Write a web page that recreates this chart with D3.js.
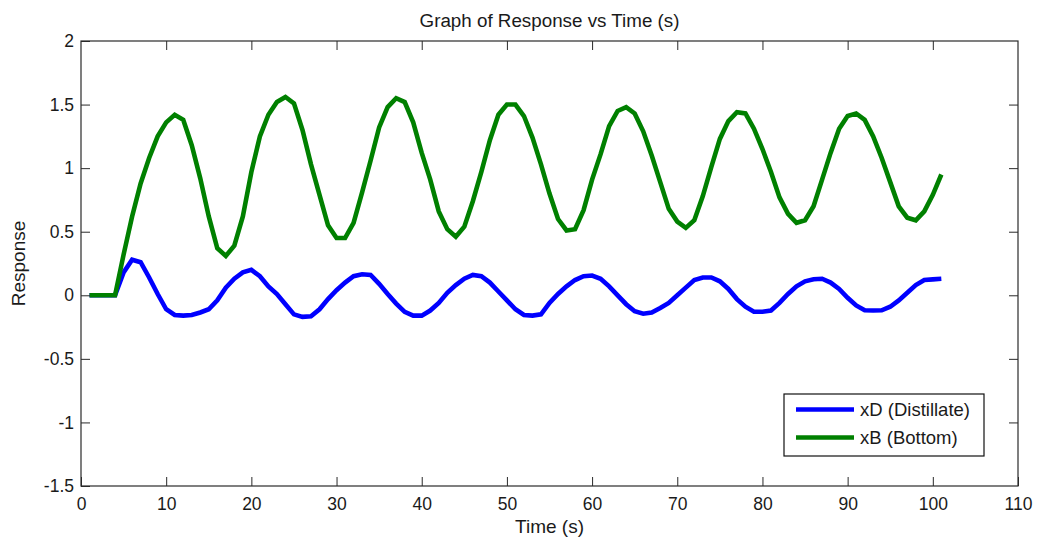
<!DOCTYPE html>
<html>
<head>
<meta charset="utf-8">
<script src="https://cdn.jsdelivr.net/npm/d3@7"></script>
<style>
  html, body { margin: 0; padding: 0; background: #fff; }
  svg { display: block; }
  text { font-family: Arial, "Liberation Sans", sans-serif; fill: #1a1a1a; }
</style>
</head>
<body>
<svg id="chart" width="1037" height="540"></svg>
<script>
// ---- data ----
const time = [1,2,3,4,5,6,7,8,9,10,11,12,13,14,15,16,17,18,19,20,21,22,23,24,25,26,27,28,29,30,
  31,32,33,34,35,36,37,38,39,40,41,42,43,44,45,46,47,48,49,50,51,52,53,54,55,56,57,58,59,60,
  61,62,63,64,65,66,67,68,69,70,71,72,73,74,75,76,77,78,79,80,81,82,83,84,85,86,87,88,89,90,
  91,92,93,94,95,96,97,98,99,100,101];

const xD = [0,0,0,0,0.18,0.28,0.26,0.14,0.01,-0.11,-0.155,-0.16,-0.155,-0.135,-0.11,-0.04,0.06,0.13,0.18,0.20,
  0.15,0.07,0.01,-0.07,-0.15,-0.17,-0.165,-0.11,-0.03,0.04,0.10,0.15,0.165,0.16,0.09,0.01,-0.065,-0.13,-0.16,-0.16,
  -0.12,-0.06,0.02,0.08,0.13,0.16,0.15,0.10,0.03,-0.04,-0.11,-0.155,-0.16,-0.15,-0.06,0.01,0.07,0.12,0.15,0.155,
  0.13,0.07,0.0,-0.07,-0.125,-0.145,-0.135,-0.10,-0.06,0.0,0.06,0.12,0.14,0.14,0.11,0.05,-0.03,-0.09,-0.13,-0.13,
  -0.12,-0.06,0.01,0.07,0.11,0.126,0.13,0.10,0.05,-0.02,-0.08,-0.118,-0.12,-0.118,-0.09,-0.04,0.02,0.08,0.12,0.125,0.13];

const xB = [0,0,0,0,0.32,0.62,0.88,1.08,1.25,1.36,1.42,1.38,1.18,0.92,0.62,0.37,0.31,0.39,0.62,0.97,
  1.25,1.42,1.52,1.56,1.51,1.30,1.03,0.79,0.55,0.45,0.45,0.57,0.81,1.06,1.32,1.48,1.55,1.52,1.36,1.12,
  0.91,0.66,0.52,0.46,0.54,0.74,0.97,1.22,1.42,1.50,1.50,1.41,1.24,1.03,0.80,0.60,0.51,0.52,0.67,0.91,
  1.11,1.33,1.45,1.48,1.43,1.29,1.10,0.89,0.68,0.58,0.53,0.59,0.78,1.01,1.23,1.37,1.44,1.43,1.31,1.15,
  0.97,0.77,0.64,0.57,0.59,0.70,0.91,1.12,1.31,1.41,1.43,1.38,1.25,1.08,0.89,0.70,0.61,0.59,0.66,0.79,0.95];

const xTicks = [0,10,20,30,40,50,60,70,80,90,100,110];
const yTicks = [-1.5,-1,-0.5,0,0.5,1,1.5,2];
const seriesNames = ["xD (Distillate)", "xB (Bottom)"];
const seriesColors = ["#0000ff", "#008000"];
const titleText = "Graph of Response vs Time (s)";
const xLabel = "Time (s)";
const yLabel = "Response";

// ---- layout ----
const svg = d3.select("#chart");
const L = 81, R = 1018, T = 41, B = 486;
const x = d3.scaleLinear().domain([0, 110]).range([L, R]);
const y = d3.scaleLinear().domain([-1.5, 2]).range([B, T]);
const axisColor = "#2a2a2a";
const tickFont = 17.5;

svg.append("rect").attr("x", L).attr("y", T).attr("width", R - L).attr("height", B - T)
  .attr("fill", "#fff");

// data lines
const series = [xD, xB];
const line = d3.line().x((d, i) => x(time[i])).y(d => y(d));
series.forEach((s, k) => {
  svg.append("path").datum(s).attr("d", line)
    .attr("fill", "none").attr("stroke", seriesColors[k])
    .attr("stroke-width", 4.6).attr("stroke-linejoin", "miter").attr("stroke-linecap", "butt");
});

// axes
function styleAxis(g) {
  g.select(".domain").remove();
  g.selectAll(".tick line").attr("stroke", axisColor).attr("stroke-width", 1);
  g.selectAll(".tick text").attr("font-size", tickFont).attr("fill", "#1a1a1a")
    .attr("font-family", "Arial, 'Liberation Sans', sans-serif");
}
const fmt = d => String(d);
svg.append("g").attr("transform", `translate(0,${B})`)
  .call(d3.axisBottom(x).tickValues(xTicks).tickFormat(fmt).tickSize(-9).tickPadding(12))
  .call(styleAxis);
svg.append("g").attr("transform", `translate(0,${T})`)
  .call(d3.axisTop(x).tickValues(xTicks.slice(1, -1)).tickFormat("").tickSize(-9))
  .call(styleAxis);
svg.append("g").attr("transform", `translate(${L},0)`)
  .call(d3.axisLeft(y).tickValues(yTicks).tickFormat(fmt).tickSize(-9).tickPadding(7))
  .call(styleAxis);
svg.append("g").attr("transform", `translate(${R},0)`)
  .call(d3.axisRight(y).tickValues(yTicks.slice(1, -1)).tickFormat("").tickSize(-9))
  .call(styleAxis);

svg.append("rect").attr("x", L).attr("y", T).attr("width", R - L).attr("height", B - T)
  .attr("fill", "none").attr("stroke", axisColor).attr("stroke-width", 1.2);

// title & labels
svg.append("text").attr("x", (L + R) / 2).attr("y", 27).attr("text-anchor", "middle")
  .attr("font-size", 18.8).text(titleText);
svg.append("text").attr("x", (L + R) / 2).attr("y", 533).attr("text-anchor", "middle")
  .attr("font-size", 19).text(xLabel);
svg.append("text").attr("transform", `translate(25,${(T + B) / 2}) rotate(-90)`)
  .attr("text-anchor", "middle").attr("font-size", 19).text(yLabel);

// legend
const lg = svg.append("g");
lg.append("rect").attr("x", 784).attr("y", 394).attr("width", 200).attr("height", 62)
  .attr("fill", "#fff").attr("stroke", "#111").attr("stroke-width", 1.2);
seriesNames.forEach((name, k) => {
  const yy = 409.5 + k * 28;
  lg.append("line").attr("x1", 796).attr("x2", 854).attr("y1", yy).attr("y2", yy)
    .attr("stroke", seriesColors[k]).attr("stroke-width", 4.6);
  lg.append("text").attr("x", 860).attr("y", yy + 6.5).attr("font-size", 18.5).text(name);
});
</script>
</body>
</html>
